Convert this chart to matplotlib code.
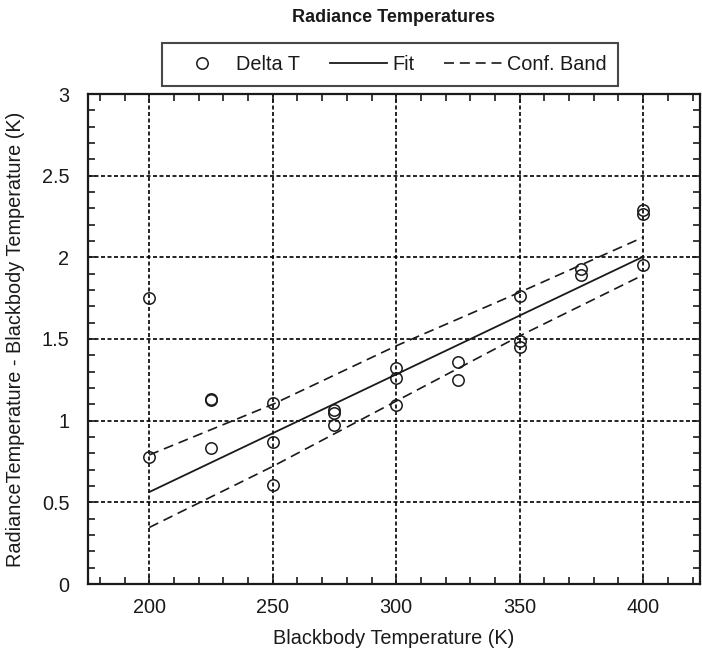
import matplotlib
matplotlib.use("Agg")
import matplotlib.pyplot as plt
from matplotlib.ticker import MultipleLocator, FormatStrFormatter

plt.rcParams['font.family'] = ['Liberation Sans', 'DejaVu Sans']

# ---- data ----
x_data = [200, 200, 225, 225, 225, 250, 250, 250, 275, 275, 275, 300, 300, 300,
          325, 325, 350, 350, 350, 375, 375, 400, 400, 400]
y_data = [1.75, 0.776, 1.132, 1.126, 0.835, 1.11, 0.868, 0.606, 1.064, 1.044, 0.976,
          1.322, 1.263, 1.098, 1.359, 1.247, 1.761, 1.488, 1.448, 1.929, 1.892,
          2.289, 2.268, 1.953]

fit_x = [200, 400]
fit_y = [0.563, 2.004]

band_x = [200, 250, 300, 350, 400]
band_upper = [0.79, 1.10, 1.458, 1.786, 2.123]
band_lower = [0.346, 0.72, 1.12, 1.519, 1.892]

title = "Radiance Temperatures"
xlabel = "Blackbody Temperature (K)"
ylabel = "RadianceTemperature - Blackbody Temperature (K)"

TXT = '#1a1a1a'
FS = 14.3

fig = plt.figure(figsize=(7.02, 6.48), dpi=100)
ax = fig.add_axes([87.5 / 702, 1 - 584 / 648, (700 - 87.5) / 702, (584 - 94) / 648])

grid_kw = dict(color='black', lw=1.2, linestyle=(0, (2.4, 1.5)), zorder=1)
ax.set_xlim(175, 423)
ax.set_ylim(0, 3)
ax.xaxis.set_major_locator(MultipleLocator(50))
ax.xaxis.set_minor_locator(MultipleLocator(10))
ax.yaxis.set_major_locator(MultipleLocator(0.5))
ax.yaxis.set_minor_locator(MultipleLocator(0.1))
ax.yaxis.set_major_formatter(FormatStrFormatter('%g'))
ax.grid(True, which='major', **grid_kw)

ax.plot(x_data, y_data, linestyle='none', marker='o', markersize=8.2,
        markerfacecolor='none', markeredgecolor=TXT, markeredgewidth=1.1,
        label='Delta T', zorder=4)
ax.plot(fit_x, fit_y, color=TXT, lw=1.3, label='Fit', zorder=3)
ax.plot(band_x, band_upper, color=TXT, lw=1.2, linestyle=(0, (6, 3.5)),
        label='Conf. Band', zorder=3)
ax.plot(band_x, band_lower, color=TXT, lw=1.2, linestyle=(0, (6, 3.5)), zorder=3)

for s in ax.spines.values():
    s.set_linewidth(1.6)
    s.set_color(TXT)

ax.tick_params(which='both', direction='in', top=True, right=True,
               colors=TXT, labelsize=FS, width=1.2)
ax.tick_params(which='major', length=6)
ax.tick_params(which='minor', length=5)
ax.tick_params(axis='x', which='major', pad=10)
ax.tick_params(axis='y', which='major', pad=13)

ax.set_xlabel(xlabel, fontsize=FS, color=TXT, labelpad=9)
ax.set_ylabel(ylabel, fontsize=FS, color=TXT, labelpad=12)

fig.text(0.5 * (87.5 + 700) / 702, 1 - 18 / 648, title, ha='center', va='center',
         fontsize=13, fontweight='bold', color=TXT)

handles, labels = ax.get_legend_handles_labels()
leg = fig.legend(handles, labels, loc='center', ncol=3,
                 bbox_to_anchor=(390 / 702, 1 - 64.5 / 648),
                 fontsize=FS, frameon=True, fancybox=False, numpoints=1,
                 handlelength=2.9, handletextpad=0.25, columnspacing=1.5,
                 borderpad=0.6, borderaxespad=0)
leg.get_frame().set_edgecolor(TXT)
leg.get_frame().set_linewidth(1.5)
for t in leg.get_texts():
    t.set_color(TXT)

fig.savefig('out.png', dpi=100)
